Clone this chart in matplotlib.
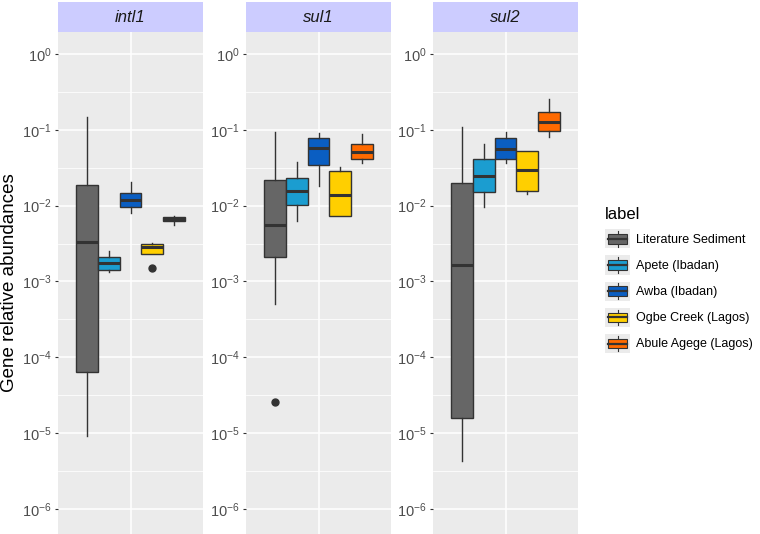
import numpy as np
import matplotlib
matplotlib.use("Agg")
import matplotlib.pyplot as plt
from matplotlib.patches import Rectangle
from matplotlib.lines import Line2D
from matplotlib.legend_handler import HandlerBase
from matplotlib.ticker import FixedLocator, LogFormatterSciNotation, NullFormatter

plt.rcParams['font.family'] = ['Liberation Sans', 'DejaVu Sans']

genes = ["intl1", "sul1", "sul2"]
sites = ["Literature Sediment", "Apete (Ibadan)", "Awba (Ibadan)",
         "Ogbe Creek (Lagos)", "Abule Agege (Lagos)"]
colors = ["#666666", "#1b9dd0", "#0a5ec2", "#ffcf00", "#ff6a00"]

# per gene, per site: whislo, q1, med, q3, whishi
intl1_stats = [
    [9.1e-6, 6.4e-5, 0.0033, 0.0187, 0.148],
    [0.00132, 0.00141, 0.00174, 0.0021, 0.0025],
    [0.0080, 0.0096, 0.0119, 0.0147, 0.0205],
    [0.0023, 0.0023, 0.00284, 0.0031, 0.0032],
    [0.0055, 0.0063, 0.0067, 0.0071, 0.0073],
]
sul1_stats = [
    [5.0e-4, 0.0021, 0.0055, 0.022, 0.093],
    [0.0063, 0.0102, 0.0156, 0.0231, 0.0376],
    [0.018, 0.034, 0.057, 0.078, 0.091],
    [0.0073, 0.0073, 0.014, 0.029, 0.032],
    [0.036, 0.041, 0.051, 0.065, 0.088],
]
sul2_stats = [
    [4.3e-6, 1.6e-5, 0.00165, 0.020, 0.109],
    [0.0095, 0.0151, 0.0245, 0.041, 0.065],
    [0.036, 0.041, 0.056, 0.078, 0.094],
    [0.0142, 0.0156, 0.0295, 0.053, 0.053],
    [0.080, 0.096, 0.127, 0.172, 0.255],
]
intl1_outliers = [[], [], [], [0.0015], []]
sul1_outliers = [[2.6e-5], [], [], [], []]
sul2_outliers = [[], [], [], [], []]

all_stats = [intl1_stats, sul1_stats, sul2_stats]
all_outliers = [intl1_outliers, sul1_outliers, sul2_outliers]

W, H = 760, 534
fig = plt.figure(figsize=(W / 100, H / 100), dpi=100)

panel_left = [58, 246, 433]
panel_w = 145
panel_top = 32
strip_h = 30

box_w = 0.18
offsets = (np.arange(len(sites)) - 2) * box_w


class BoxKeyHandler(HandlerBase):
    def create_artists(self, legend, orig_handle, xdescent, ydescent,
                       width, height, fontsize, trans):
        x0, y0 = -xdescent, -ydescent
        bg = Rectangle((x0, y0), width, height, facecolor="#ebebeb",
                       edgecolor="none", transform=trans)
        fc = orig_handle.get_facecolor()
        xm = x0 + width / 2
        w1 = Line2D([xm, xm], [y0 + 0.1 * height, y0 + 0.25 * height],
                    color="#333333", lw=0.8, transform=trans)
        w2 = Line2D([xm, xm], [y0 + 0.75 * height, y0 + 0.9 * height],
                    color="#333333", lw=0.8, transform=trans)
        box = Rectangle((x0 + 0.125 * width, y0 + 0.25 * height),
                        0.75 * width, 0.5 * height, facecolor=fc,
                        edgecolor="#333333", lw=0.8, transform=trans)
        med = Line2D([x0 + 0.125 * width, x0 + 0.875 * width],
                     [y0 + 0.5 * height] * 2, color="#333333", lw=1.6,
                     transform=trans)
        return [bg, w1, w2, box, med]


for gi, gene in enumerate(genes):
    ax = fig.add_axes([panel_left[gi] / W, 0, panel_w / W,
                       (H - panel_top) / H])
    ax.set_facecolor("#ebebeb")
    for s in ax.spines.values():
        s.set_visible(False)
    ax.set_yscale("log")
    ax.set_ylim(10 ** -6.33, 10 ** 0.29)
    ax.set_xlim(0.4, 1.6)

    bstats = []
    for si in range(len(sites)):
        lo, q1, med, q3, hi = all_stats[gi][si]
        bstats.append(dict(whislo=lo, q1=q1, med=med, q3=q3, whishi=hi,
                           fliers=all_outliers[gi][si]))
    bp = ax.bxp(bstats, positions=1 + offsets, widths=box_w,
                patch_artist=True, showcaps=False, manage_ticks=False,
                boxprops=dict(edgecolor="#333333", linewidth=1.0),
                whiskerprops=dict(color="#333333", linewidth=1.0),
                medianprops=dict(color="#333333", linewidth=2.2),
                flierprops=dict(marker="o", markerfacecolor="#333333",
                                markeredgecolor="#333333", markersize=5))
    for patch, c in zip(bp["boxes"], colors):
        patch.set_facecolor(c)
    for b in bp["boxes"] + bp["whiskers"] + bp["medians"] + bp["fliers"]:
        b.set_zorder(3)

    ax.yaxis.set_major_locator(FixedLocator([10.0 ** k for k in range(-6, 1)]))
    ax.yaxis.set_major_formatter(LogFormatterSciNotation())
    ax.yaxis.set_minor_locator(FixedLocator([10.0 ** (k + 0.5) for k in range(-7, 1)]))
    ax.yaxis.set_minor_formatter(NullFormatter())
    ax.set_xticks([1])
    ax.set_xticklabels([])
    ax.tick_params(axis="x", length=0)
    ax.tick_params(axis="y", which="major", length=2.5, color="#333333",
                   labelsize=10.5, labelcolor="#4d4d4d", pad=2)
    ax.tick_params(axis="y", which="minor", length=0)
    ax.grid(True, which="major", color="white", linewidth=1.1)
    ax.grid(True, which="minor", axis="y", color="white", linewidth=0.55)
    ax.set_axisbelow(True)

    sax = fig.add_axes([panel_left[gi] / W, (H - panel_top) / H,
                        panel_w / W, strip_h / H])
    sax.set_facecolor("#ccccff")
    sax.set_xticks([])
    sax.set_yticks([])
    for s in sax.spines.values():
        s.set_visible(False)
    sax.text(0.5, 0.5, gene, ha="center", va="center", style="italic",
             fontsize=12, color="#1a1a1a", transform=sax.transAxes)

    if gi == 0:
        ax.set_ylabel("Gene relative abundances", fontsize=13.5,
                      color="black", labelpad=3)

handles = [Rectangle((0, 0), 1, 1, facecolor=c) for c in colors]
leg = fig.legend(handles, sites, loc="upper left",
                 bbox_to_anchor=(594 / W, 1 - 196 / H), frameon=False,
                 title="label", title_fontsize=12, fontsize=9,
                 handlelength=2.0, handleheight=2.0, labelspacing=0.55,
                 handletextpad=0.5, alignment="left",
                 handler_map={Rectangle: BoxKeyHandler()})

fig.savefig("out.png", dpi=100)
